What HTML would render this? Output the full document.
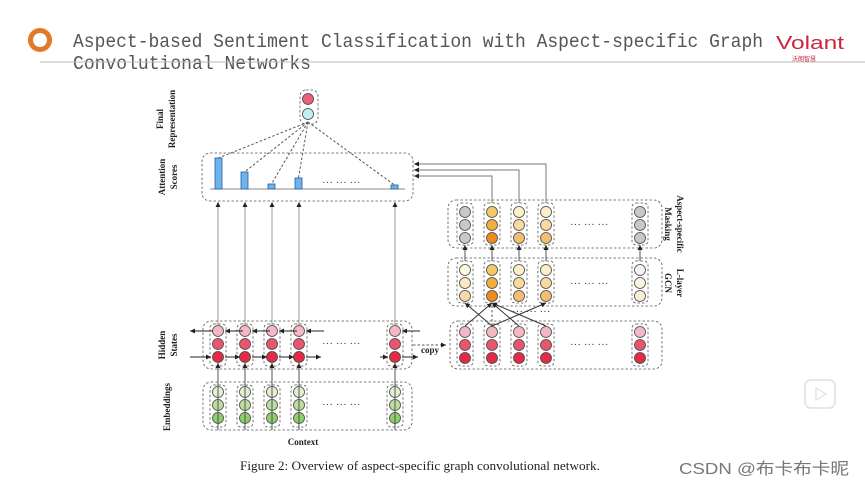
<!DOCTYPE html>
<html><head><meta charset="utf-8"><style>
body{margin:0;width:865px;height:487px;background:#fff;overflow:hidden;position:relative;font-family:"Liberation Serif",serif}
</style></head><body>
<svg id="s" width="865" height="487" viewBox="0 0 865 487" xmlns="http://www.w3.org/2000/svg">
<defs>
<marker id="a" markerWidth="6" markerHeight="6" refX="5" refY="3" orient="auto"><path d="M0,0.5 L5,3 L0,5.5z" fill="#222"/></marker>
</defs>
<circle cx="40" cy="40" r="9.5" fill="none" stroke="#e07a2a" stroke-width="5"/>
<text x="73" y="47" font-family="Liberation Mono,monospace" font-size="19" fill="#555" textLength="690" lengthAdjust="spacingAndGlyphs">Aspect-based Sentiment Classification with Aspect-specific Graph</text>
<text x="73" y="69" font-family="Liberation Mono,monospace" font-size="19" fill="#555" textLength="238" lengthAdjust="spacingAndGlyphs">Convolutional Networks</text>
<line x1="40" y1="62" x2="865" y2="62" stroke="#bbb" stroke-width="1"/>
<text x="776" y="49" font-family="Liberation Sans,sans-serif" font-size="18" fill="#c8283c" textLength="68" lengthAdjust="spacingAndGlyphs">Volant</text>
<text x="792" y="61" font-family="Noto Sans CJK SC,sans-serif" font-size="6" fill="#c8283c">沃朗智慧</text>
<g id="g" font-family="Liberation Serif,serif" font-weight="bold" font-size="9" fill="#222"></g>
<text x="240" y="470" font-family="Liberation Serif,serif" font-size="13" fill="#222" textLength="360" lengthAdjust="spacingAndGlyphs">Figure 2:  Overview of aspect-specific graph convolutional network.</text>
<rect x="805" y="380" width="30" height="28" rx="6" fill="none" stroke="#e6e6e6" stroke-width="2"/>
<path d="M816,388 L826,394 L816,400z" fill="none" stroke="#e6e6e6" stroke-width="1.5"/>
<text x="679" y="474" font-family="Liberation Sans,Noto Sans CJK SC,sans-serif" font-size="16" fill="#777" textLength="170" lengthAdjust="spacingAndGlyphs">CSDN @布卡布卡昵</text>
</svg>
<script>
const g=document.getElementById('g');let h='';
const box=(x,y,w,hh,r)=>h+=`<rect x="${x}" y="${y}" width="${w}" height="${hh}" rx="${r||8}" fill="none" stroke="#555" stroke-width="0.8" stroke-dasharray="2.5,2"/>`;
const c=(x,y,f)=>h+=`<circle cx="${x}" cy="${y}" r="5.5" fill="${f}" stroke="#444" stroke-width="0.8"/>`;
const ln=(x1,y1,x2,y2,col,m,d)=>h+=`<line x1="${x1}" y1="${y1}" x2="${x2}" y2="${y2}" stroke="${col||'#999'}" stroke-width="1" ${m?'marker-end="url(#a)"':''} ${d?'stroke-dasharray="2.5,2"':''}/>`;
const dots=(x,y)=>h+=`<text x="${x}" y="${y}" font-weight="normal" font-size="11" fill="#444">···   ···   ···</text>`;
const L=[218,245,272,299,395],R=[465,492,519,546,640];
box(202,153,211,48);
ln(210,189,405,189,'#888');
[[215,158],[241,172],[268,184],[295,178],[391,185]].forEach(([x,t])=>{h+=`<rect x="${x}" y="${t}" width="7" height="${189-t}" fill="#6cb4f0" stroke="#2a5a9a" stroke-width="0.8"/>`;ln(308,122,x+3.5,t,'#555',0,1)});
dots(322,186);
box(300,90,18,34,6);c(308,99,'#e8607a');c(308,114,'#bff0ee');
L.forEach(x=>ln(x,325,x,202,'#999',1));
box(203,321,209,48);box(203,382,209,48);
L.forEach(x=>{box(x-8,324,16,42,4);c(x,331,'#f4b8c4');c(x,344,'#e8566e');c(x,357,'#e02c48');
 box(x-8,385,16,42,4);c(x,392,'#e3f1d3');c(x,405,'#bddd9e');c(x,418,'#8ecf6c');ln(x,430,x,363,'#555',1);});
for(let i=0;i<4;i++){ln(L[i]+25,331,L[i]+7,331,'#222',1);ln(L[i]+7,357,L[i]+22,357,'#222',1);}
ln(213,331,190,331,'#222',1);ln(190,357,211,357,'#222',1);ln(420,331,402,331,'#222',1);ln(380,357,388,357,'#222',1);ln(402,357,418,357,'#222',1);
dots(322,347);dots(322,408);
ln(413,345,446,345,'#555',1,1);h+=`<text x="421" y="353">copy</text>`;
box(450,321,212,48);box(448,258,214,48);box(448,200,214,48);
const M=[['#c8c8c8','#c8c8c8','#c8c8c8'],['#f5c96a','#f0ae3e','#f08a1c'],['#fcf0c8','#f9d9a0','#f5bd72'],['#fcf0c8','#f9d9a0','#f5bd72'],['#c8c8c8','#c8c8c8','#c8c8c8']];
const G=[['#fdf7dc','#fbe8c2','#f8d8a8'],M[1],M[2],M[3],['#f7f0f0','#fbf3e2','#faecd8']];
R.forEach((x,i)=>{box(x-8,324,16,42,4);c(x,332,'#f4b8c4');c(x,345,'#e8566e');c(x,358,'#e02c48');
 box(x-8,261,16,42,4);G[i].forEach((f,j)=>c(x,270+13*j,f));
 box(x-8,203,16,42,4);M[i].forEach((f,j)=>c(x,212+13*j,f));ln(x,261,x,245,'#555',1);});
[[465,326,492,303],[492,326,465,303],[492,326,546,303],[546,326,492,303],[519,326,492,303]].forEach(a=>ln(...a,'#333',1));
ln(492,326,492,303,'#555',0,1);
dots(570,228);dots(570,287);dots(570,348);dots(512,315);
[[492,176],[519,170],[546,164]].forEach(([x,y])=>{h+=`<polyline points="${x},203 ${x},${y} 414,${y}" fill="none" stroke="#777" stroke-width="1" marker-end="url(#a)"/>`});
const vt=(x,y,t,r)=>h+=`<text transform="translate(${x},${y}) rotate(${r||-90})" text-anchor="middle">${t}</text>`;
vt(163,119,'Final');vt(175,119,'Representation');vt(165,177,'Attention');vt(177,177,'Scores');
vt(165,345,'Hidden');vt(177,345,'States');vt(170,407,'Embeddings');
vt(677,224,'Aspect-specific',90);vt(665,224,'Masking',90);vt(677,283,'L-layer',90);vt(665,283,'GCN',90);
h+=`<text x="303" y="445" text-anchor="middle">Context</text>`;
g.innerHTML=h;
</script>
</body></html>
